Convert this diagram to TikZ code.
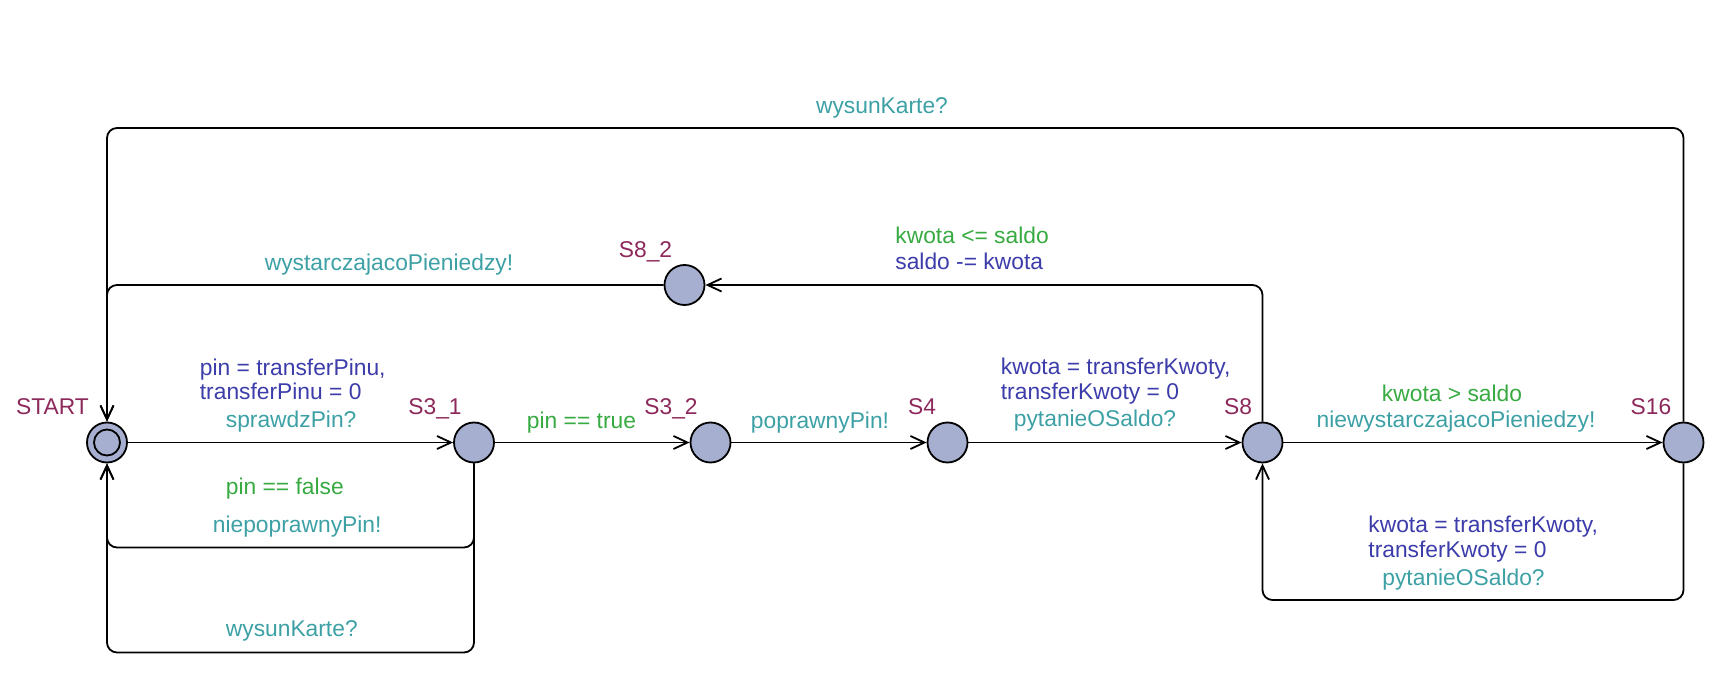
\documentclass[tikz,border=0pt]{standalone}
\usepackage{fontspec}
\setmainfont{Liberation Sans}
\usetikzlibrary{arrows.meta}
\definecolor{locname}{RGB}{140,40,90}
\definecolor{guardc}{RGB}{55,170,65}
\definecolor{assignc}{RGB}{60,60,170}
\definecolor{syncc}{RGB}{60,160,165}
\definecolor{locfill}{RGB}{166,175,207}
\begin{document}
\begin{tikzpicture}[x=0.5pt,y=-0.5pt,
  loc/.style={circle,draw=black,line width=0.9pt,fill=locfill,minimum size=20pt,inner sep=0pt},
  edge/.style={draw,line width=0.9pt,-{Straight Barb[length=7pt,width=6.5pt,line width=0.9pt]},rounded corners=5pt},
  lbl/.style={inner sep=0pt,font=\fontsize{11.4}{13.7}\selectfont},
  nm/.style={lbl,text=locname,anchor=base},
  grd/.style={lbl,text=guardc},
  asg/.style={lbl,text=assignc},
  syn/.style={lbl,text=syncc}]
\useasboundingbox (0,0) rectangle (1714,695);
% locations
\node[loc] (start) at (107,442.5) {};
\node[circle,draw=black,line width=0.9pt,minimum size=13pt,inner sep=0pt] (startin) at (107,442.5) {};
\node[loc] (s31) at (474,442.5) {};
\node[loc] (s32) at (710.5,442.5) {};
\node[loc] (s4) at (947.5,442.5) {};
\node[loc] (s8) at (1262.5,442.5) {};
\node[loc] (s16) at (1683.5,442.5) {};
\node[loc] (s82) at (684.5,285) {};
% helper coordinates
\coordinate (ytop) at (0,128);
\coordinate (yl1) at (0,547.5);
\coordinate (yl2) at (0,652.5);
\coordinate (yl3) at (0,600);
% edges
\draw[edge] (start) -- (s31);
\draw[edge] (s31) -- (s32);
\draw[edge] (s32) -- (s4);
\draw[edge] (s4) -- (s8);
\draw[edge] (s8) -- (s16);
\draw[edge] (s8.north) |- (s82.east);
\draw[edge] (s82.west) -| (start.north);
\draw[edge] (s16.north) |- (ytop -| start) -- (start.north);
\draw[edge] (s31.south) |- (yl1 -| start) -- (start.south);
\draw[edge] (s31.south) |- (yl2 -| start) -- (start.south);
\draw[edge] (s16.south) |- (yl3 -| s8) -- (s8.south);
% location names
\node[nm] (nstart) at (52.5,415) {START};
\node[nm] (ns31) at (435,415) {S3\_1};
\node[nm] (ns32) at (671,415) {S3\_2};
\node[nm] (ns4) at (922,415) {S4};
\node[nm] (ns8) at (1238,414.5) {S8};
\node[nm] (ns16) at (1651,414.5) {S16};
\node[nm] (ns82) at (645.5,257.5) {S8\_2};
% edge labels
\node[syn,anchor=base] (l1) at (882,113.5) {wysunKarte?};
\node[syn,anchor=base] (l2) at (389,270.5) {wystarczajacoPieniedzy!};
\node[grd,anchor=base west] (l3) at (895,244) {kwota <= saldo};
\node[asg,anchor=base west] (l4) at (895,269.5) {saldo -= kwota};
\node[asg,anchor=base west] (l5) at (199.5,375) {pin = transferPinu,};
\node[asg,anchor=base west] (l6) at (199.5,400) {transferPinu = 0};
\node[syn,anchor=base west] (l7) at (225.5,427) {sprawdzPin?};
\node[grd,anchor=base] (l8) at (581.5,428) {pin == true};
\node[syn,anchor=base] (l9) at (820,428) {poprawnyPin!};
\node[asg,anchor=base west] (l10) at (1000.5,374.5) {kwota = transferKwoty,};
\node[asg,anchor=base west] (l11) at (1000.5,399.5) {transferKwoty = 0};
\node[syn,anchor=base west] (l12) at (1013.5,426.5) {pytanieOSaldo?};
\node[grd,anchor=base] (l13) at (1452,401) {kwota > saldo};
\node[syn,anchor=base] (l14) at (1456,427) {niewystarczajacoPieniedzy!};
\node[grd,anchor=base west] (l15) at (225.5,494) {pin == false};
\node[syn,anchor=base west] (l16) at (212.5,532.5) {niepoprawnyPin!};
\node[syn,anchor=base west] (l17) at (225.5,636.5) {wysunKarte?};
\node[asg,anchor=base west] (l18) at (1368,532.5) {kwota = transferKwoty,};
\node[asg,anchor=base west] (l19) at (1368,557.5) {transferKwoty = 0};
\node[syn,anchor=base west] (l20) at (1382,585) {pytanieOSaldo?};
\end{tikzpicture}
\end{document}
